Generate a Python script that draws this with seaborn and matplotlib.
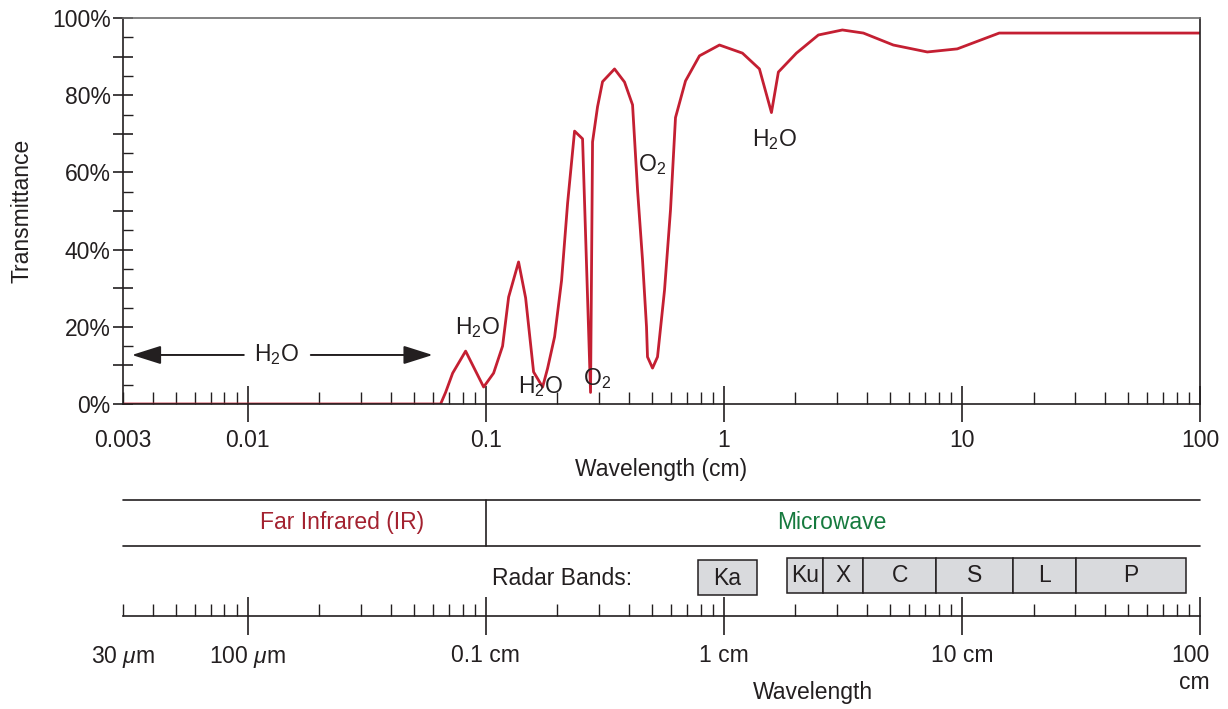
import numpy as np
import pandas as pd
import matplotlib
matplotlib.use("Agg")
import matplotlib.pyplot as plt
import matplotlib.ticker as mticker
from matplotlib.patches import Rectangle
import seaborn as sns

# ---------------- data ----------------
wavelength_cm = [0.003, 0.0647, 0.0679, 0.0727, 0.0824, 0.0981, 0.108, 0.1178, 0.1249,
                 0.1375, 0.1472, 0.159, 0.1735, 0.182, 0.1948, 0.2084, 0.2209, 0.2363,
                 0.2553, 0.2758, 0.2812, 0.2951, 0.3097, 0.3478, 0.3831, 0.414, 0.4345,
                 0.4559, 0.4738, 0.4784, 0.5022, 0.527, 0.564, 0.5976, 0.6271, 0.6909,
                 0.7907, 0.9594, 1.198, 1.412, 1.586, 1.696, 2.019, 2.497, 3.149, 3.858,
                 5.153, 7.158, 9.565, 14.35, 100.0]
transmittance = [0, 0, 3, 8, 13.7, 4.4, 8.0, 15, 27.7,
                 36.8, 27.5, 8.3, 4.4, 9.2, 17.4, 32, 52, 70.7,
                 68.7, 3, 67.9, 77, 83.5, 86.8, 83.4, 77.5, 55.4,
                 37.3, 20, 12.2, 9.3, 12.2, 29.5, 50.3, 74.2, 83.7,
                 90.2, 93, 90.9, 86.8, 75.5, 86, 90.9, 95.6, 96.9, 96.1,
                 93, 91.2, 92, 96.1, 96.1]

top_tick_values = [0.003, 0.01, 0.1, 1, 10, 100]
top_tick_labels = ["0.003", "0.01", "0.1", "1", "10", "100"]
y_tick_values = [0, 20, 40, 60, 80, 100]
y_tick_labels = ["0%", "20%", "40%", "60%", "80%", "100%"]

bottom_tick_labels = ["30 $\\mu$m", "100 $\\mu$m", "0.1 cm", "1 cm", "10 cm", "100\ncm"]

region_names = ["Far Infrared (IR)", "Microwave"]
region_label_x = [0.0249, 2.83]
region_boundary = 0.1

ka_band = ("Ka", 0.78, 1.38)
band_names = ["Ku", "X", "C", "S", "L", "P"]
band_start = [1.85, 2.62, 3.86, 7.8, 16.4, 30.2]
band_end = [2.62, 3.86, 7.8, 16.4, 30.2, 87.5]

# annotations: (text, wavelength, transmittance)
absorbers = [("H$_\\mathregular{2}$O", 0.0926, 19.8),
             ("H$_\\mathregular{2}$O", 0.1702, 4.4),
             ("O$_\\mathregular{2}$", 0.2923, 6.5),
             ("O$_\\mathregular{2}$", 0.502, 62.0),
             ("H$_\\mathregular{2}$O", 1.633, 68.5)]

# ---------------- style ----------------
sns.set_theme(style="white")
plt.rcParams['font.family'] = ['Liberation Sans', 'DejaVu Sans']
plt.rcParams['mathtext.fontset'] = 'custom'
plt.rcParams['mathtext.rm'] = 'Liberation Sans'
plt.rcParams['mathtext.it'] = 'Liberation Sans:italic'
plt.rcParams['mathtext.bf'] = 'Liberation Sans:bold'

TXT = "#231f20"
RED = "#c41f32"
FS = 16.5

fig = plt.figure(figsize=(12.28, 7.09), dpi=100)
ax = fig.add_axes([123/1228, (709-404)/709, 1077/1228, 386/709])

df = pd.DataFrame({"wavelength": wavelength_cm, "transmittance": transmittance})
sns.lineplot(data=df, x="wavelength", y="transmittance", ax=ax, color=RED,
             linewidth=2.0, estimator=None, sort=False)
ax.set_xscale("log")
ax.set_xlim(0.003, 100)
ax.set_ylim(0, 100)

for s in ["left", "right", "bottom"]:
    ax.spines[s].set_color(TXT)
    ax.spines[s].set_linewidth(1.2)
ax.spines["top"].set_color("#6d6d6d")
ax.spines["top"].set_linewidth(1.2)

# x ticks
ax.xaxis.set_major_locator(mticker.FixedLocator([0.01, 0.1, 1, 10, 100]))
ax.xaxis.set_major_formatter(mticker.FixedFormatter(top_tick_labels[1:]))
minors = [0.003] + [m * d for d in [0.001, 0.01, 0.1, 1, 10] for m in range(2, 10)
                    if 0.003 < m * d < 100]
ax.xaxis.set_minor_locator(mticker.FixedLocator(minors))
ax.xaxis.set_minor_formatter(mticker.FuncFormatter(
    lambda v, p: top_tick_labels[0] if abs(v - 0.003) < 1e-9 else ""))
ax.tick_params(axis="x", which="both", bottom=True, top=False)
ax.tick_params(axis="y", which="both", left=True, right=False)
ax.tick_params(axis="x", which="major", direction="inout", length=26, width=1.2,
               color=TXT, labelsize=FS, labelcolor=TXT, pad=5)
ax.tick_params(axis="x", which="minor", direction="in", length=8.5, width=1.0,
               color=TXT, labelsize=FS, labelcolor=TXT, pad=18)

# y ticks
ax.yaxis.set_major_locator(mticker.FixedLocator(list(range(0, 101, 10))))
ax.yaxis.set_major_formatter(mticker.FuncFormatter(
    lambda v, p: f"{int(round(v))}%" if int(round(v)) in y_tick_values else ""))
ax.yaxis.set_minor_locator(mticker.FixedLocator(list(range(5, 100, 10))))
ax.tick_params(axis="y", which="major", direction="inout", length=14, width=1.2,
               color=TXT, labelsize=FS, labelcolor=TXT, pad=2)
ax.tick_params(axis="y", which="minor", direction="in", length=7, width=1.0, color=TXT)

ax.set_xlabel("Wavelength (cm)", fontsize=FS, color=TXT, labelpad=4)
ax.set_ylabel("Transmittance", fontsize=FS, color=TXT, labelpad=13)

# H2O band arrows
arrow_kw = dict(arrowstyle="-|>,head_length=1.2,head_width=0.38", color=TXT,
                lw=1.4, shrinkA=0, shrinkB=0, mutation_scale=15)
ax.annotate("", xy=(0.00327, 12.7), xytext=(0.00965, 12.7), arrowprops=arrow_kw)
ax.annotate("", xy=(0.0599, 12.7), xytext=(0.01844, 12.7), arrowprops=arrow_kw)
ax.text(0.01327, 12.7, "H$_\\mathregular{2}$O", fontsize=FS, color=TXT,
        ha="center", va="center")

for label, wl, tr in absorbers:
    ax.text(wl, tr, label, fontsize=FS, color=TXT, ha="center", va="center")

# ---------------- bottom panel ----------------
bx = fig.add_axes([123/1228, (709-616)/709, 1077/1228, (616-495)/709])
bx.set_xscale("log")
bx.set_xlim(0.003, 100)
bx.set_ylim(0, 1)
bx.patch.set_alpha(0)
for s in ["left", "right", "top"]:
    bx.spines[s].set_visible(False)
bx.spines["bottom"].set_color(TXT)
bx.spines["bottom"].set_linewidth(1.2)
bx.set_yticks([])

bx.xaxis.set_major_locator(mticker.FixedLocator([0.01, 0.1, 1, 10, 100]))
bx.xaxis.set_major_formatter(mticker.FixedFormatter(bottom_tick_labels[1:5] + [""]))
bx.xaxis.set_minor_locator(mticker.FixedLocator(minors))
bx.xaxis.set_minor_formatter(mticker.FuncFormatter(
    lambda v, p: bottom_tick_labels[0] if abs(v - 0.003) < 1e-9 else ""))
bx.tick_params(axis="x", which="both", bottom=True, top=False)
bx.tick_params(axis="x", which="major", direction="inout", length=28, width=1.2,
               color=TXT, labelsize=FS, labelcolor=TXT, pad=6)
bx.tick_params(axis="x", which="minor", direction="in", length=9, width=1.0,
               color=TXT, labelsize=FS, labelcolor=TXT, pad=20)
# last label ("100 / cm") stacked and right-aligned as in the original
bx.annotate(bottom_tick_labels[5], xy=(100, 0), xycoords="data",
            xytext=(7, -20), textcoords="offset points", ha="right", va="top",
            multialignment="right", fontsize=FS, color=TXT, annotation_clip=False,
            linespacing=1.25)

# region strip
bx.axhline(0.959, color=TXT, lw=1.2, clip_on=False)
bx.axhline(0.579, color=TXT, lw=1.2, clip_on=False)
bx.plot([region_boundary, region_boundary], [0.579, 0.959], color=TXT, lw=1.2,
        clip_on=False)
bx.text(region_label_x[0], 0.769, region_names[0], color="#a3212f", fontsize=FS,
        ha="center", va="center")
bx.text(region_label_x[1], 0.769, region_names[1], color="#167a3e", fontsize=FS,
        ha="center", va="center")

bx.text(0.414, 0.314, "Radar Bands:", color=TXT, fontsize=FS, ha="right", va="center")

BOX = "#d9dadd"
name, s0, s1 = ka_band
bx.add_patch(Rectangle((s0, 0.174), s1 - s0, 0.29, facecolor=BOX, edgecolor=TXT,
                       lw=1.1, clip_on=False))
bx.text(np.sqrt(s0 * s1), 0.31, name, fontsize=FS, color=TXT, ha="center", va="center")
for name, s0, s1 in zip(band_names, band_start, band_end):
    bx.add_patch(Rectangle((s0, 0.19), s1 - s0, 0.29, facecolor=BOX, edgecolor=TXT,
                           lw=1.1, clip_on=False))
    bx.text(np.sqrt(s0 * s1), 0.335, name, fontsize=FS, color=TXT,
            ha="center", va="center")

fig.text(813/1228, 1 - 693/709, "Wavelength", fontsize=FS, color=TXT,
         ha="center", va="center")

fig.savefig("out.png", dpi=100)
